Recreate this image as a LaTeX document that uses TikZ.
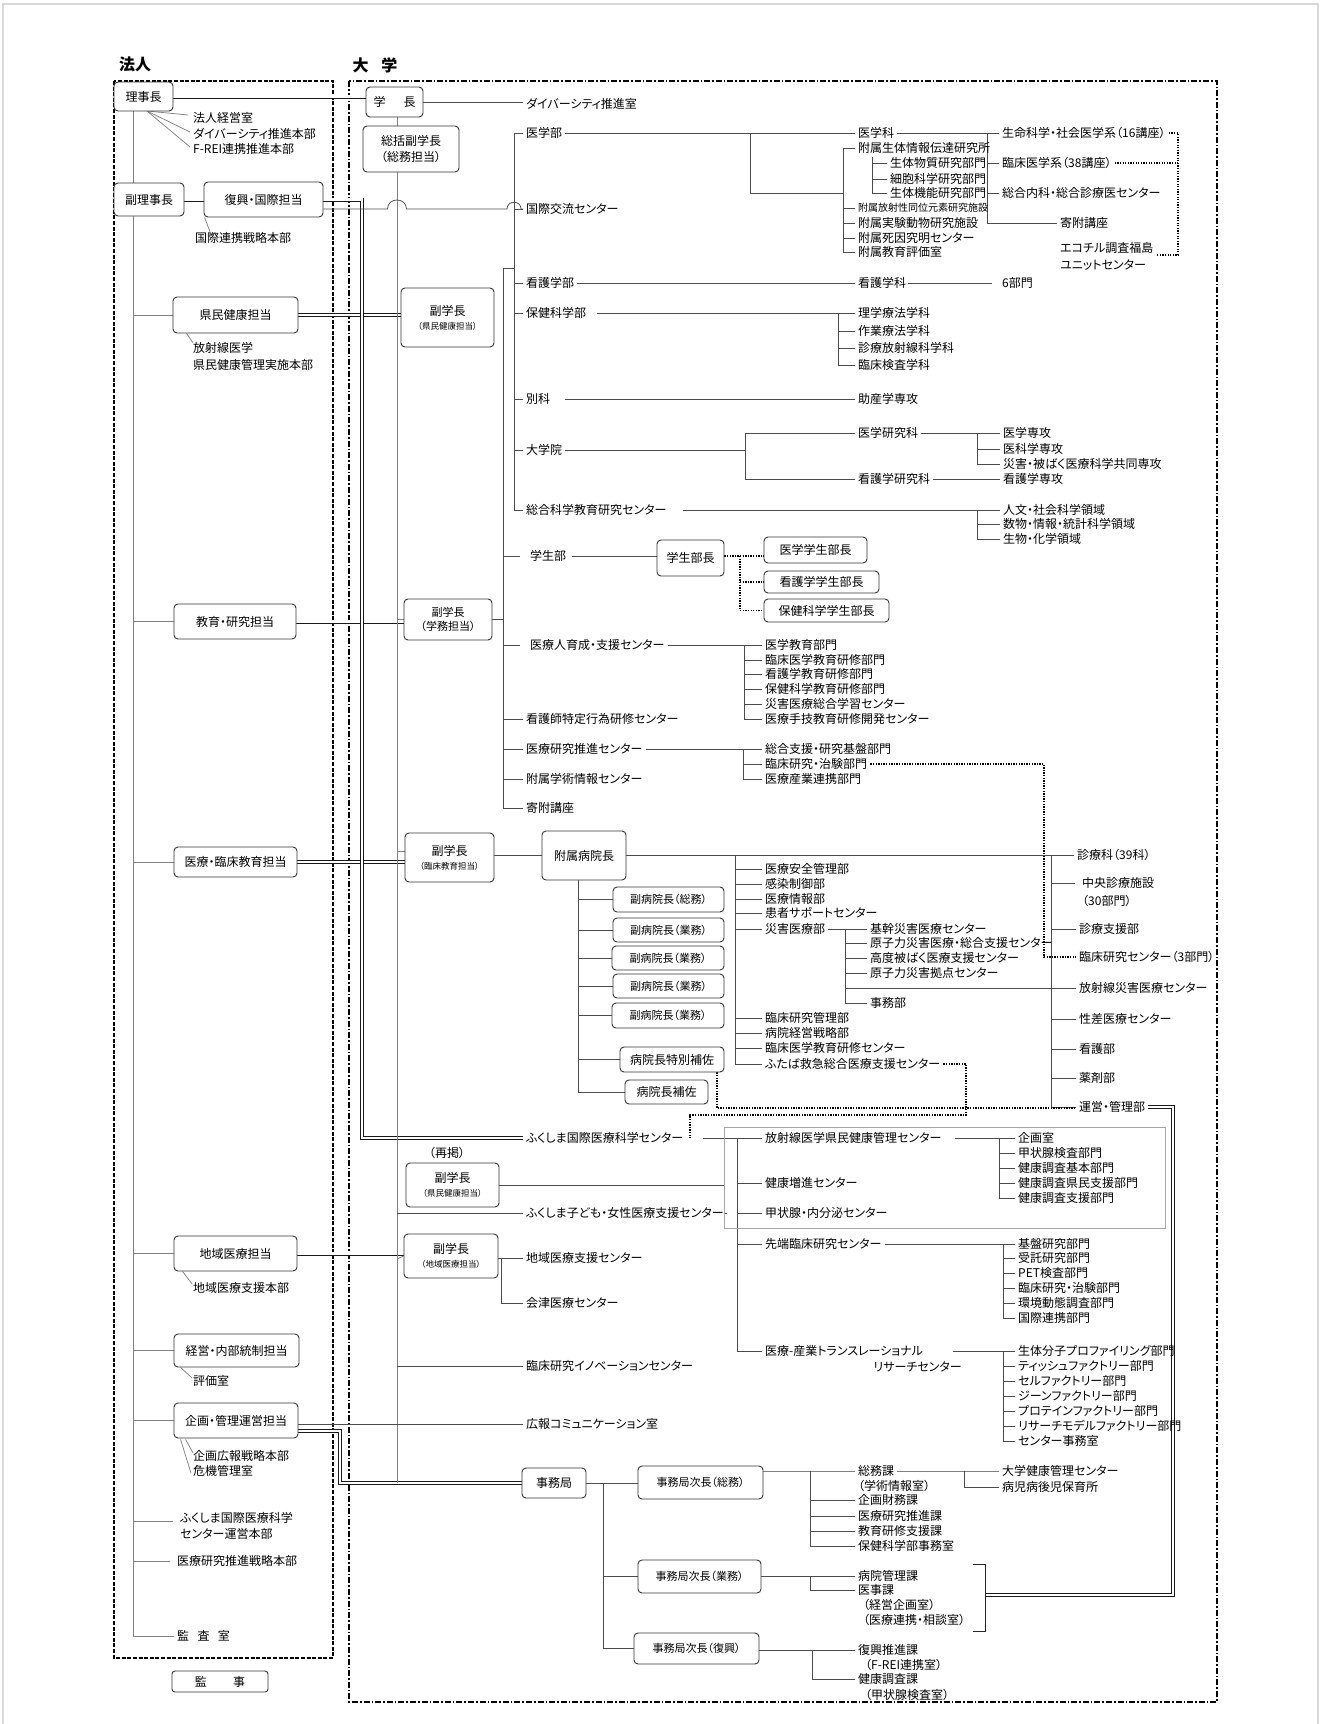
\documentclass[tikz,border=0pt]{standalone}
\usepackage{fontspec}
\newfontfamily\jp{Noto Sans CJK JP}[RawFeature=+palt]
\usetikzlibrary{calc}
\pgfdeclarelayer{bg}
\pgfsetlayers{bg,main}
\newcommand\smalltag[1]{{\fontsize{8.5}{10}\selectfont #1}}
\begin{document}
\begin{tikzpicture}[x=1pt,y=-1pt,
 lbl/.style={anchor=west,inner xsep=3pt,inner ysep=0pt,font=\jp\fontsize{12}{14}\selectfont,text height=10pt,text depth=2pt},
 lbls/.style={lbl,font=\jp\fontsize{10}{12}\selectfont,text height=8.4pt,text depth=1.6pt},
 bx/.style={draw=black!80,line width=0.9pt,rounded corners=4pt,fill=white,inner sep=0pt,align=center,font=\jp\fontsize{12}{16}\selectfont},
 bxs/.style={bx,font=\jp\fontsize{11}{14}\selectfont},
 ln/.style={draw=black!70,line width=0.75pt},
 lnl/.style={draw=black!50,line width=0.75pt},
 dbl/.style={draw=black!90,line width=0.9pt,double=white,double distance=2.2pt},
 dotl/.style={draw=black,line width=1.3pt,dash pattern=on 1.3pt off 1.3pt},
 framea/.style={draw=black,line width=1.1pt,dash pattern=on 4pt off 1.6pt},
 frameb/.style={draw=black,line width=1.2pt,dash pattern=on 6pt off 2pt on 1.6pt off 2pt}
]
\useasboundingbox (0,0) rectangle (1327,1724);

% ---------- titles
\node[inner sep=0,font=\jp\bfseries\fontsize{16}{16}\selectfont] (ttlH) at (135,64) {法人};
\node[inner sep=0,font=\jp\bfseries\fontsize{16}{16}\selectfont] (ttlU) at (375,65) {大\hspace{0.8em}学};

% ---------- 法人 side
\node[bx,minimum width=59pt,minimum height=29pt] (rijicho) at (143.5,96.5) {理事長};
\node[lbl] (hKeiei) at (190,118) {法人経営室};
\node[lbl] (hDiv) at (190,134) {ダイバーシティ推進本部};
\node[lbl] (hFrei) at (190,149) {F-REI連携推進本部};
\node[bx,minimum width=70pt,minimum height=33pt] (fukuriji) at (149,199.5) {副理事長};
\node[bx,minimum width=119pt,minimum height=35pt] (fukko) at (263.5,199.5) {復興・国際担当};
\node[lbl] (hKokusai) at (192,238) {国際連携戦略本部};
\node[bx,minimum width=125pt,minimum height=36pt] (kenmin) at (235.5,315) {県民健康担当};
\node[lbl] (hHoshasen) at (190,348) {放射線医学};
\node[lbl] (hKenminJ) at (190,365) {県民健康管理実施本部};
\node[bx,minimum width=122pt,minimum height=35pt] (kyoiku) at (235,621.5) {教育・研究担当};
\node[bx,minimum width=123pt,minimum height=30pt] (iryorinsho) at (235.5,862) {医療・臨床教育担当};
\node[bx,minimum width=123pt,minimum height=35pt] (chiiki) at (235.5,1253.5) {地域医療担当};
\node[lbl] (hChiikiH) at (190,1288) {地域医療支援本部};
\node[bx,minimum width=125pt,minimum height=33pt] (keiei) at (236.5,1350.5) {経営・内部統制担当};
\node[lbl] (hHyoka) at (190,1381) {評価室};
\node[bx,minimum width=124pt,minimum height=35pt] (kikaku) at (236,1420.5) {企画・管理運営担当};
\node[lbl] (hKikakuKoho) at (190,1456) {企画広報戦略本部};
\node[lbl] (hKiki) at (190,1471) {危機管理室};
\node[lbl] (hFM1) at (177,1518) {ふくしま国際医療科学};
\node[lbl] (hFM2) at (177,1534) {センター運営本部};
\node[lbl] (hIryoSen) at (174,1561) {医療研究推進戦略本部};
\node[lbl] (hKansa) at (174,1636) {監\hspace{0.7em}査\hspace{0.7em}室};
\node[bx,rounded corners=3pt,minimum width=96pt,minimum height=21pt] (kanji) at (220,1681.5) {監\hspace{2.2em}事};

% ---------- 大学 heads
\node[bx,minimum width=57pt,minimum height=30pt] (gakucho) at (394.5,102) {学\hspace{1.5em}長};
\node[bx,minimum width=96pt,minimum height=46pt] (sokatsu) at (411,149) {総括副学長\\（総務担当）};
\node[bx,minimum width=93pt,minimum height=59pt] (vp1) at (447.5,317.5) {副学長\\[-2pt]\smalltag{（県民健康担当）}};
\node[bx,minimum width=88pt,minimum height=41pt,font=\jp\fontsize{11}{14}\selectfont] (vp2) at (448,619.5) {副学長\\（学務担当）};
\node[bx,minimum width=89pt,minimum height=49pt] (vp3) at (449.5,857.5) {副学長\\[-2pt]\smalltag{（臨床教育担当）}};
\node[lbl,anchor=center,inner xsep=0pt] (saikei) at (447,1153) {（再掲）};
\node[bx,minimum width=93pt,minimum height=44pt] (vp4) at (452.5,1185) {副学長\\[-2pt]\smalltag{（県民健康担当）}};
\node[bx,minimum width=94pt,minimum height=44pt] (vp5) at (451,1256) {副学長\\[-2pt]\smalltag{（地域医療担当）}};
\node[bx,minimum width=64pt,minimum height=30pt] (jimu) at (554,1483) {事務局};
\node[lbl] (uDiv) at (523,104) {ダイバーシティ推進室};

% ---------- faculties
\node[lbl] (uIgakubu) at (523,133) {医学部};
\node[lbl] (uKokusai) at (523,209) {国際交流センター};
\node[lbl] (uKangoB) at (523,283) {看護学部};
\node[lbl] (uHokenB) at (523,313) {保健科学部};
\node[lbl] (uBekka) at (523,399) {別科};
\node[lbl] (uDaigakuin) at (523,450) {大学院};
\node[lbl] (uSogo) at (523,510) {総合科学教育研究センター};

\node[lbl] (uIgakuka) at (855,133) {医学科};
\node[lbl] (uFzSeitai) at (855,148) {附属生体情報伝達研究所};
\node[lbl] (uSeitaiB) at (887,163) {生体物質研究部門};
\node[lbl] (uSaibo) at (887,179) {細胞科学研究部門};
\node[lbl] (uSeitaiK) at (887,193) {生体機能研究部門};
\node[lbls] (uRI) at (855,208) {附属放射性同位元素研究施設};
\node[lbl] (uJikken) at (855,223) {附属実験動物研究施設};
\node[lbl] (uShiin) at (855,238) {附属死因究明センター};
\node[lbl] (uHyoka) at (855,252) {附属教育評価室};
\node[lbl] (uSeimei) at (999,133) {生命科学・社会医学系（16講座）};
\node[lbl] (uRinshoIgaku) at (999,163) {臨床医学系（38講座）};
\node[lbl] (uSogoNaika) at (999,193) {総合内科・総合診療医センター};
\node[lbl] (uKifu1) at (1057,223) {寄附講座};
\node[lbl] (uEco1) at (1057,248) {エコチル調査福島};
\node[lbl] (uEco2) at (1057,265) {ユニットセンター};

\node[lbl] (uKangoKa) at (855,283) {看護学科};
\node[lbl] (u6) at (999,283) {6部門};
\node[lbl] (uRigaku) at (855,313) {理学療法学科};
\node[lbl] (uSagyo) at (855,331) {作業療法学科};
\node[lbl] (uShinHo) at (855,348) {診療放射線科学科};
\node[lbl] (uRinKen) at (855,365) {臨床検査学科};
\node[lbl] (uJosan) at (855,399) {助産学専攻};
\node[lbl] (uIgKenkyu) at (855,433) {医学研究科};
\node[lbl] (uKgKenkyu) at (855,479) {看護学研究科};
\node[lbl] (uIgSenko) at (1000,433) {医学専攻};
\node[lbl] (uIkagaku) at (1000,449) {医科学専攻};
\node[lbl] (uSaigai) at (1000,464) {災害・被ばく医療科学共同専攻};
\node[lbl] (uKgSenko) at (1000,479) {看護学専攻};
\node[lbl] (uJinbun) at (1000,510) {人文・社会科学領域};
\node[lbl] (uSuubutsu) at (1000,524) {数物・情報・統計科学領域};
\node[lbl] (uSeibutsu) at (1000,539) {生物・化学領域};

% ---------- second bus
\node[lbl] (uGakusei) at (527,556) {学生部};
\node[lbl] (uJinzai) at (527,645) {医療人育成・支援センター};
\node[lbl] (uTokutei) at (523,719) {看護師特定行為研修センター};
\node[lbl] (uIryoKen) at (523,749) {医療研究推進センター};
\node[lbl] (uGakujutsu) at (523,779) {附属学術情報センター};
\node[lbl] (uKifu2) at (523,808) {寄附講座};
\node[bx,minimum width=67pt,minimum height=36pt] (gsb) at (690.5,558) {学生部長};
\node[bx,minimum width=103pt,minimum height=26pt] (gsb1) at (815.5,550) {医学学生部長};
\node[bx,minimum width=115pt,minimum height=22pt] (gsb2) at (821.5,582) {看護学学生部長};
\node[bx,minimum width=125pt,minimum height=23pt] (gsb3) at (826.5,610.5) {保健科学学生部長};
\node[lbl] (uJ1) at (762,645) {医学教育部門};
\node[lbl] (uJ2) at (762,660) {臨床医学教育研修部門};
\node[lbl] (uJ3) at (762,674) {看護学教育研修部門};
\node[lbl] (uJ4) at (762,689) {保健科学教育研修部門};
\node[lbl] (uJ5) at (762,704) {災害医療総合学習センター};
\node[lbl] (uJ6) at (762,719) {医療手技教育研修開発センター};
\node[lbl] (uK1) at (762,749) {総合支援・研究基盤部門};
\node[lbl] (uK2) at (762,764) {臨床研究・治験部門};
\node[lbl] (uK3) at (762,779) {医療産業連携部門};

% ---------- hospital
\node[bx,minimum width=84pt,minimum height=49pt] (byo) at (584,855.5) {附属病院長};
\node[lbl] (uShinryoka) at (1074,855) {診療科（39科）};
\node[bxs,minimum width=111pt,minimum height=25pt] (fb1) at (668.5,899.5) {副病院長（総務）};
\node[bxs,minimum width=111pt,minimum height=24pt] (fb2) at (668.5,930) {副病院長（業務）};
\node[bxs,minimum width=112pt,minimum height=24pt] (fb3) at (668,958) {副病院長（業務）};
\node[bxs,minimum width=111pt,minimum height=24pt] (fb4) at (668.5,986) {副病院長（業務）};
\node[bxs,minimum width=112pt,minimum height=25pt] (fb5) at (668,1015.5) {副病院長（業務）};
\node[bx,minimum width=104pt,minimum height=25pt] (tokuho) at (672,1059.5) {病院長特別補佐};
\node[bx,minimum width=83pt,minimum height=24pt] (hosa) at (666.5,1092) {病院長補佐};

\node[lbl] (hA1) at (762,869) {医療安全管理部};
\node[lbl] (hA2) at (762,884) {感染制御部};
\node[lbl] (hA3) at (762,899) {医療情報部};
\node[lbl] (hA4) at (762,913) {患者サポートセンター};
\node[lbl] (hA5) at (762,929) {災害医療部};
\node[lbl] (hA6) at (762,1018) {臨床研究管理部};
\node[lbl] (hA7) at (762,1033) {病院経営戦略部};
\node[lbl] (hA8) at (762,1048) {臨床医学教育研修センター};
\node[lbl] (hA9) at (762,1064) {ふたば救急総合医療支援センター};
\node[lbl] (hS1) at (867,929) {基幹災害医療センター};
\node[lbl] (hS2) at (867,943) {原子力災害医療・総合支援センター};
\node[lbl] (hS3) at (867,958) {高度被ばく医療支援センター};
\node[lbl] (hS4) at (867,973) {原子力災害拠点センター};
\node[lbl] (hS6) at (867,1003) {事務部};
\node[lbl] (hR1a) at (1079,883) {中央診療施設};
\node[lbl] (hR1b) at (1079,901) {（30部門）};
\node[lbl] (hR2) at (1076,929) {診療支援部};
\node[lbl] (hR3) at (1076,957) {臨床研究センター（3部門）};
\node[lbl] (hR5) at (1076,988) {放射線災害医療センター};
\node[lbl] (hR6) at (1076,1019) {性差医療センター};
\node[lbl] (hR7) at (1076,1049) {看護部};
\node[lbl] (hR8) at (1076,1078) {薬剤部};
\node[lbl] (hR9) at (1076,1107) {運営・管理部};

% ---------- international center block
\node[lbl] (uFmsc) at (523,1138) {ふくしま国際医療科学センター};
\node[draw=black!35,line width=0.8pt,minimum width=441pt,minimum height=101pt,inner sep=0pt] (grect) at (944.5,1177.5) {};
\node[lbl] (uKodomo) at (523,1213) {ふくしま子ども・女性医療支援センター};
\node[lbl] (gA1) at (762,1138) {放射線医学県民健康管理センター};
\node[lbl] (gA2) at (762,1183) {健康増進センター};
\node[lbl] (gA3) at (762,1213) {甲状腺・内分泌センター};
\node[lbl] (gA4) at (762,1244) {先端臨床研究センター};
\node[lbl] (gA5) at (762,1351) {医療-産業トランスレーショナル};
\node[lbl,anchor=east] (gA5b) at (965,1367) {リサーチセンター};
\node[lbl] (gB1) at (1015,1138) {企画室};
\node[lbl] (gB2) at (1015,1153) {甲状腺検査部門};
\node[lbl] (gB3) at (1015,1168) {健康調査基本部門};
\node[lbl] (gB4) at (1015,1183) {健康調査県民支援部門};
\node[lbl] (gB5) at (1015,1198) {健康調査支援部門};
\node[lbl] (gC1) at (1015,1244) {基盤研究部門};
\node[lbl] (gC2) at (1015,1258) {受託研究部門};
\node[lbl] (gC3) at (1015,1273) {PET検査部門};
\node[lbl] (gC4) at (1015,1288) {臨床研究・治験部門};
\node[lbl] (gC5) at (1015,1303) {環境動態調査部門};
\node[lbl] (gC6) at (1015,1318) {国際連携部門};
\node[lbl] (gD1) at (1015,1351) {生体分子プロファイリング部門};
\node[lbl] (gD2) at (1015,1366) {ティッシュファクトリー部門};
\node[lbl] (gD3) at (1015,1381) {セルファクトリー部門};
\node[lbl] (gD4) at (1015,1396) {ジーンファクトリー部門};
\node[lbl] (gD5) at (1015,1411) {プロテインファクトリー部門};
\node[lbl] (gD6) at (1015,1426) {リサーチモデルファクトリー部門};
\node[lbl] (gD7) at (1015,1441) {センター事務室};

\node[lbl] (uChiikiShien) at (523,1258) {地域医療支援センター};
\node[lbl] (uAizu) at (523,1303) {会津医療センター};
\node[lbl] (uInnov) at (523,1366) {臨床研究イノベーションセンター};
\node[lbl] (uKoho) at (523,1424) {広報コミュニケーション室};

% ---------- secretariat
\node[bxs,minimum width=125pt,minimum height=33pt] (jS) at (700.5,1482.5) {事務局次長（総務）};
\node[bxs,minimum width=123pt,minimum height=33pt] (jG) at (699.5,1576.5) {事務局次長（業務）};
\node[bxs,minimum width=125pt,minimum height=31pt] (jF) at (696.5,1648.5) {事務局次長（復興）};
\node[lbl] (jS1) at (855,1471) {総務課};
\node[lbl] (jS1b) at (855,1486) {（学術情報室）};
\node[lbl] (jS2) at (855,1500) {企画財務課};
\node[lbl] (jS3) at (855,1516) {医療研究推進課};
\node[lbl] (jS4) at (855,1531) {教育研修支援課};
\node[lbl] (jS5) at (855,1546) {保健科学部事務室};
\node[lbl] (jD1) at (999,1471) {大学健康管理センター};
\node[lbl] (jD2) at (999,1487) {病児病後児保育所};
\node[lbl] (jG1) at (855,1576) {病院管理課};
\node[lbl] (jG2) at (855,1590) {医事課};
\node[lbl] (jG2b) at (860,1605) {（経営企画室）};
\node[lbl] (jG2c) at (860,1620) {（医療連携・相談室）};
\node[lbl] (jF1) at (855,1650) {復興推進課};
\node[lbl] (jF1b) at (862,1665) {（F-REI連携室）};
\node[lbl] (jF2) at (855,1679) {健康調査課};
\node[lbl] (jF2b) at (862,1695) {（甲状腺検査室）};

% ---------- bus coordinates
\coordinate (hsp) at (133,0);
\coordinate (usp) at (397,0);
\coordinate (dv) at (362,0);
\coordinate (fs) at (514,0);
\coordinate (fs2) at (503,0);
\coordinate (fs2top) at (503,268);
\coordinate (mA) at (750,193);
\coordinate (mB) at (843,0);
\coordinate (mC) at (872,0);
\coordinate (mCtop) at (872,157);
\coordinate (mD) at (987,0);
\coordinate (dE) at (1178,0);
\coordinate (dEbot) at (1178,255);
\coordinate (hB) at (838,0);
\coordinate (dg) at (745,0);
\coordinate (dg2) at (977,0);
\coordinate (gd) at (740,0);
\coordinate (jz) at (744,0);
\coordinate (ik) at (743,0);
\coordinate (hm) at (735,0);
\coordinate (hr) at (1051,0);
\coordinate (hs) at (845,0);
\coordinate (hv) at (578,0);
\coordinate (dq) at (1044,0);
\coordinate (dt) at (717,1108);
\coordinate (df1) at (966,1115);
\coordinate (df2) at (690,1115);
\coordinate (gv) at (737,0);
\coordinate (g1) at (999,0);
\coordinate (g4) at (1003,0);
\coordinate (cz) at (501,0);
\coordinate (kk) at (340,1431);
\coordinate (jv) at (603,0);
\coordinate (jsv) at (810,0);
\coordinate (jdv) at (964,0);
\coordinate (jfv) at (812,0);
\coordinate (uk) at (1173,0);
\coordinate (ukb) at (1173,1595);
\coordinate (bk1) at (973,1564);
\coordinate (bk2) at (985,1564);
\coordinate (bk3) at (985,1631);
\coordinate (bk4) at (973,1631);
% start points after gaps
\coordinate (sHoken) at (597,313);
\coordinate (sBekka) at (565,399);
\coordinate (sSogo) at (683,510);
\coordinate (sGakusei) at (572,556);
\coordinate (s6a) at (908,283);
\coordinate (s6b) at (992,283);
\coordinate (sFm) at (703,1138);
\coordinate (sGA1) at (955,1138);
\coordinate (sGA5) at (953,1351);
\coordinate (rjfan) at (147,111);

\begin{pgfonlayer}{bg}
% page frame
\draw[black!15,line width=2.5pt] (3,1730) -- (3,4) -- (1318,4) -- (1318,1730);
% frames
\draw[framea] (114,81) rectangle (333,1658);
\draw[frameb] (349,81) rectangle (1217,1702);

% 法人 lines
\draw[dbl] (rijicho.east) -- (rijicho.east -| gakucho.west);
\draw[lnl] (rjfan) -- ($(hKeiei.west)+(-2,-3)$);
\draw[lnl] (rjfan) -- ($(hDiv.west)+(0,-2)$);
\draw[lnl] (rjfan) -- ($(hFrei.west)+(0,-2)$);
\draw[dbl] (fukuriji.east) -- (fukko.west);
\draw[lnl] ($(fukko.south west)+(1,0)$) -- ($(hKokusai.north west)+(18,0)$);
\draw[lnl] ($(kenmin.south west)+(14,0)$) -- ($(hHoshasen.north west)+(3,1)$);
\draw[lnl] ($(chiiki.south west)+(9,0)$) -- ($(hChiikiH.north west)+(2,2)$);
\draw[lnl] ($(keiei.south west)+(7,0)$) -- ($(hHyoka.north west)+(2,3)$);
\draw[lnl] ($(kikaku.south west)+(7,1)$) -- ($(hKiki.west)+(1,2)$);
\draw[lnl] ($(kikaku.south west)+(12,1)$) -- ($(hKikakuKoho.north west)+(3,3)$);
\draw[lnl] (hsp |- rijicho.south) -- (hsp |- hKansa.west) -- (hKansa.west);
\foreach \n in {kenmin,kyoiku,iryorinsho,chiiki,keiei,kikaku}
  \draw[lnl] (hsp |- \n.west) -- (\n.west);
\draw[lnl] ($(hsp |- hFM1.west)+(0,3)$) -- ($(hFM1.west)+(-4,3)$);
\draw[lnl] (hsp |- hIryoSen.west) -- ($(hIryoSen.west)+(-4,0)$);

% double lines to vice presidents
\draw[dbl] (kenmin.east) -- (kenmin.east -| vp1.west);
\draw[dbl] (kyoiku.east) -- (kyoiku.east -| vp2.west);
\draw[dbl] (iryorinsho.east) -- (iryorinsho.east -| vp3.west);
\draw[dbl] (chiiki.east) -- (chiiki.east -| vp5.west);
\draw[dbl] (fukko.east) -| (dv |- uFmsc.west) -- (uFmsc.west);
\draw[dbl] (kikaku.east |- kk) -- (kk) |- (jimu.west);

% university spine
\draw[lnl] (usp |- gakucho.south) -- (usp |- jimu.west);
\draw[ln] (gakucho.east) -- (gakucho.east -| uDiv.west);
\draw[lnl] (usp |- vp2.west) -- (vp2.west);
\draw[lnl] ($(usp |- vp3.west)+(0,-6)$) -- ($(vp3.west)+(0,-6)$);
\draw[lnl] ($(usp |- vp5.west)+(0,3)$) -- (vp5.west);
\draw[ln] (usp |- uKodomo.west) -- (uKodomo.west);
\draw[ln] (usp |- uInnov.west) -- (uInnov.west);
\draw[ln] (kikaku.east |- uKoho.west) -- (uKoho.west);

% international exchange line with jumps
\draw[ln] (fukko.east |- uKokusai.west) -- ($(usp |- uKokusai.west)+(-9.5,0)$)
  .. controls +(0,-12) and +(0,-12) .. ++(19,0)
  -- ($(fs |- uKokusai.west)+(-7,0)$)
  .. controls +(0,-9) and +(0,-9) .. ++(14,0)
  -- (uKokusai.west);

% faculty spine
\draw[ln] (uIgakubu.west) -| (fs |- uSogo.west) -- (uSogo.west);
\foreach \n in {uKokusai,uKangoB,uHokenB,uBekka,uDaigakuin}
  \draw[ln] (fs |- \n.west) -- (\n.west);
\draw[ln] (fs |- fs2top) -- (fs2top) -- (fs2 |- uKifu2.west) -- (uKifu2.west);
\draw[ln] (fs2 |- uGakusei.west) -- ++(17,0);
\draw[ln] (fs2 |- uJinzai.west) -- ++(17,0);
\foreach \n in {uTokutei,uIryoKen,uGakujutsu}
  \draw[ln] (fs2 |- \n.west) -- (\n.west);
\draw[ln] (vp2.east) -- (fs2 |- vp2.east);

% medicine
\draw[ln] (uIgakubu.east) -- (uIgakuka.west);
\draw[ln] (mA |- uIgakubu.west) -- (mA) -- (mB |- mA);
\draw[ln] (mB |- uFzSeitai.west) -- (mB |- uHyoka.west) -- (uHyoka.west);
\foreach \n in {uFzSeitai,uRI,uJikken,uShiin}
  \draw[ln] (mB |- \n.west) -- (\n.west);
\draw[ln] (mCtop) -- (mC |- uSeitaiK.west) -- (uSeitaiK.west);
\foreach \n in {uSeitaiB,uSaibo}
  \draw[ln] (mC |- \n.west) -- (\n.west);
\draw[ln] (uIgakuka.east) -- (uSeimei.west);
\draw[ln] (mD |- uIgakuka.east) -- (mD |- uKifu1.west) -- (uKifu1.west);
\foreach \n in {uRinshoIgaku,uSogoNaika}
  \draw[ln] (mD |- \n.west) -- (\n.west);
\draw[dotl] (uSeimei.east) -| (dEbot) -- (dEbot -| uEco1.east);
\draw[dotl] (uRinshoIgaku.east) -- (dE |- uRinshoIgaku.east);

% nursing, health sciences etc.
\draw[ln] (uKangoB.east) -- (uKangoKa.west);
\draw[ln] (s6a) -- (s6b);
\draw[ln] (sHoken) -- (uRigaku.west);
\draw[ln] (hB |- uRigaku.west) -- (hB |- uRinKen.west) -- (uRinKen.west);
\foreach \n in {uSagyo,uShinHo}
  \draw[ln] (hB |- \n.west) -- (\n.west);
\draw[ln] (sBekka) -- (uJosan.west);
\draw[ln] (uDaigakuin.east) -- (dg |- uDaigakuin.east);
\draw[ln] (uIgKenkyu.west) -| (dg |- uKgKenkyu.west) -- (uKgKenkyu.west);
\draw[ln] (uIgKenkyu.east) -- (uIgSenko.west);
\draw[ln] (dg2 |- uIgSenko.west) -- (dg2 |- uSaigai.west) -- (uSaigai.west);
\draw[ln] (dg2 |- uIkagaku.west) -- (uIkagaku.west);
\draw[ln] (uKgKenkyu.east) -- (uKgSenko.west);
\draw[ln] (sSogo) -- (uJinbun.west);
\draw[ln] (dg2 |- uJinbun.west) -- (dg2 |- uSeibutsu.west) -- (uSeibutsu.west);
\draw[ln] (dg2 |- uSuubutsu.west) -- (uSuubutsu.west);

% students
\draw[ln] (sGakusei) -- (gsb.west |- sGakusei);
\draw[dotl] (gsb.east |- uGakusei.east) -- (gsb1.west |- uGakusei.east);
\draw[dotl] (gd |- uGakusei.east) -- (gd |- gsb3.west) -- (gsb3.west);
\draw[dotl] (gd |- gsb2.west) -- (gsb2.west);
\draw[ln] (uJinzai.east) -- (uJ1.west);
\draw[ln] (jz |- uJ1.west) -- (jz |- uJ6.west) -- (uJ6.west);
\foreach \n in {uJ2,uJ3,uJ4,uJ5}
  \draw[ln] (jz |- \n.west) -- (\n.west);
\draw[ln] (uIryoKen.east) -- (uK1.west);
\draw[ln] (ik |- uK1.west) -- (ik |- uK3.west) -- (uK3.west);
\draw[ln] (ik |- uK2.west) -- (uK2.west);
\draw[dotl] (uK2.east) -- (dq |- uK2.east) -- (dq |- hR3.west) -- (hR3.west);

% hospital
\draw[ln] (vp3.east |- byo.west) -- (byo.west);
\draw[ln] (byo.east) -- (byo.east -| uShinryoka.west);
\draw[ln] (hm |- byo.east) -- (hm |- hA9.west) -- (hA9.west);
\foreach \n in {hA1,hA2,hA3,hA4,hA5,hA6,hA7,hA8}
  \draw[ln] (hm |- \n.west) -- (\n.west);
\draw[ln] (hA5.east) -- (hS1.west);
\draw[ln] (hs |- hS1.west) -- (hs |- hS6.west) -- (hS6.west);
\foreach \n in {hS2,hS3,hS4}
  \draw[ln] (hs |- \n.west) -- (\n.west);
\draw[ln] (hs |- hR5.west) -- (hR5.west);
\draw[ln] (hr |- byo.east) -- (hr |- hR9.west) -- (hR9.west);
\draw[ln] (hr |- hR1a.west) -- ($(hR1a.west)+(-4,0)$);
\foreach \n in {hR2,hR6,hR7,hR8}
  \draw[ln] (hr |- \n.west) -- (\n.west);
\draw[ln] (hv |- byo.south) -- (hv |- hosa.west) -- (hosa.west);
\foreach \n in {fb1,fb2,fb3,fb4,fb5,tokuho}
  \draw[ln] (hv |- \n.west) -- (\n.west);
\draw[dotl] (tokuho.south -| dt) -- (dt) -- (dt -| hR9.west);
\draw[dotl] (hA9.east) -| (df1) -- (df2) -- (df2 |- uFmsc.east);
\draw[dbl] (hR9.east) -| (ukb) -- (bk2 |- ukb);
\draw[ln,draw=black!85] (bk1) -- (bk2) -- (bk3) -- (bk4);

% international medical science center block
\draw[ln] (sFm) -- (gA1.west);
\draw[ln] (gv |- gA1.west) -- (gv |- gA5.west) -- (gA5.west);
\foreach \n in {gA2,gA3,gA4}
  \draw[ln] (gv |- \n.west) -- (\n.west);
\draw[ln] (vp4.east) -- (vp4.east -| grect.west);
\draw[ln] (uKodomo.east) -- (uKodomo.east -| grect.west);
\draw[ln] (sGA1) -- (gB1.west);
\draw[ln] (g1 |- gB1.west) -- (g1 |- gB5.west) -- (gB5.west);
\foreach \n in {gB2,gB3,gB4}
  \draw[ln] (g1 |- \n.west) -- (\n.west);
\draw[ln] (gA4.east) -- (gC1.west);
\draw[ln] (g4 |- gC1.west) -- (g4 |- gC6.west) -- (gC6.west);
\foreach \n in {gC2,gC3,gC4,gC5}
  \draw[ln] (g4 |- \n.west) -- (\n.west);
\draw[ln] (sGA5) -- (gD1.west);
\draw[ln] (g4 |- gD1.west) -- (g4 |- gD7.west) -- (gD7.west);
\foreach \n in {gD2,gD3,gD4,gD5,gD6}
  \draw[ln] (g4 |- \n.west) -- (\n.west);

% regional medicine
\draw[ln] (vp5.east |- uChiikiShien.west) -- (uChiikiShien.west);
\draw[ln] (cz |- uChiikiShien.west) -- (cz |- uAizu.west) -- (uAizu.west);

% secretariat
\draw[ln] (jimu.east) -- (jimu.east -| jS.west);
\draw[ln] (jv |- jimu.east) -- (jv |- jF.west) -- (jF.west);
\draw[ln] (jv |- jG.west) -- (jG.west);
\draw[lnl] (jS.east |- jS1.west) -- (jS1.west);
\draw[ln] (jsv |- jS1.west) -- (jsv |- jS5.west) -- (jS5.west);
\foreach \n in {jS2,jS3,jS4}
  \draw[ln] (jsv |- \n.west) -- (\n.west);
\draw[lnl] (jS1.east) -- (jD1.west);
\draw[ln] (jdv |- jD1.west) |- (jD2.west);
\draw[ln] (jG.east |- jG1.west) -- (jG1.west);
\draw[ln] (jsv |- jG1.west) |- (jG2.west);
\draw[ln] (jF.east |- jF1.west) -- (jF1.west);
\draw[ln] (jfv |- jF1.west) |- (jF2.west);
\end{pgfonlayer}
\end{tikzpicture}
\end{document}
